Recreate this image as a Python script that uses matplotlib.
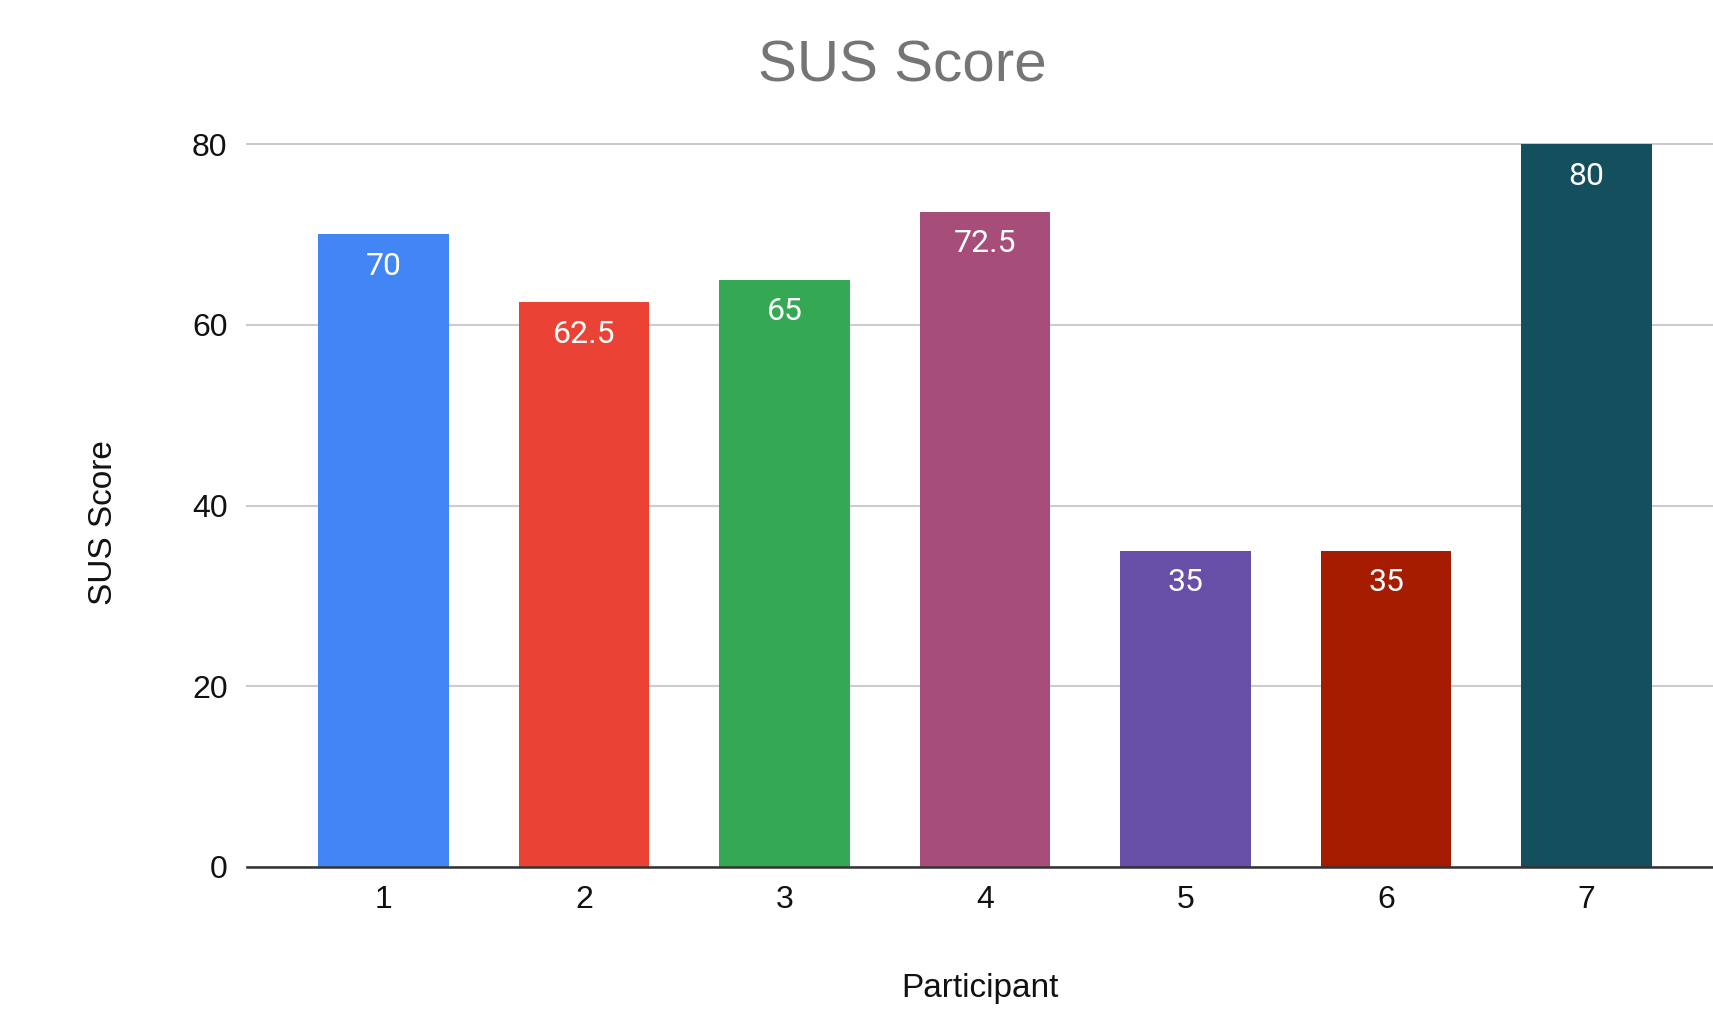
import matplotlib.pyplot as plt

# 데이터
participants = ['1', '2', '3', '4', '5', '6', '7']
scores = [70, 62.5, 65, 72.5, 35, 35, 80]
score_labels = ['70', '62.5', '65', '72.5', '35', '35', '80']
colors = ['#4285F4', '#EA4335', '#34A853', '#A64D79', '#674EA7', '#A61C00', '#134F5C']
yticks = [0, 20, 40, 60, 80]

plt.rcParams['font.family'] = ['Liberation Sans', 'DejaVu Sans']

fig = plt.figure(figsize=(17.13, 10.22), dpi=100)
ax = fig.add_axes([0.1442, 0.1517, 0.8558, 0.7073])

x = list(range(1, len(participants) + 1))
bars = ax.bar(x, scores, width=0.65, color=colors, zorder=3)

# 막대 안쪽 위 값 표시
for xi, s, lab in zip(x, scores, score_labels):
    ax.annotate(lab, (xi, s), xytext=(0, -32), textcoords='offset pixels',
                ha='center', va='center', color='white', fontsize=23,
                family='Roboto', zorder=4)

ax.set_xlim(0.32, 7.63)
ax.set_ylim(0, 80)
ax.set_yticks(yticks)
ax.set_xticks(x)
ax.set_xticklabels(participants)
ax.tick_params(axis='both', length=0, labelsize=23, colors='#111111')
ax.tick_params(axis='x', pad=13)
ax.tick_params(axis='y', pad=14)

ax.grid(axis='y', color='#cccccc', linewidth=1.5, zorder=0)
for g in ax.get_ygridlines():
    g.set_clip_on(False)
for side in ['top', 'right', 'left']:
    ax.spines[side].set_visible(False)
ax.spines['bottom'].set_color('#333333')
ax.spines['bottom'].set_linewidth(1.8)
ax.spines['bottom'].set_zorder(5)

ax.set_xlabel('Participant', fontsize=24, color='#111111', labelpad=42)
ax.set_ylabel('SUS Score', fontsize=24, color='#111111')
ax.yaxis.set_label_coords(-0.087, 0.476)

fig.text(0.5266, 0.935, 'SUS Score', ha='center', va='center', fontsize=42, color='#757575')

fig.savefig('out.png', dpi=100)
